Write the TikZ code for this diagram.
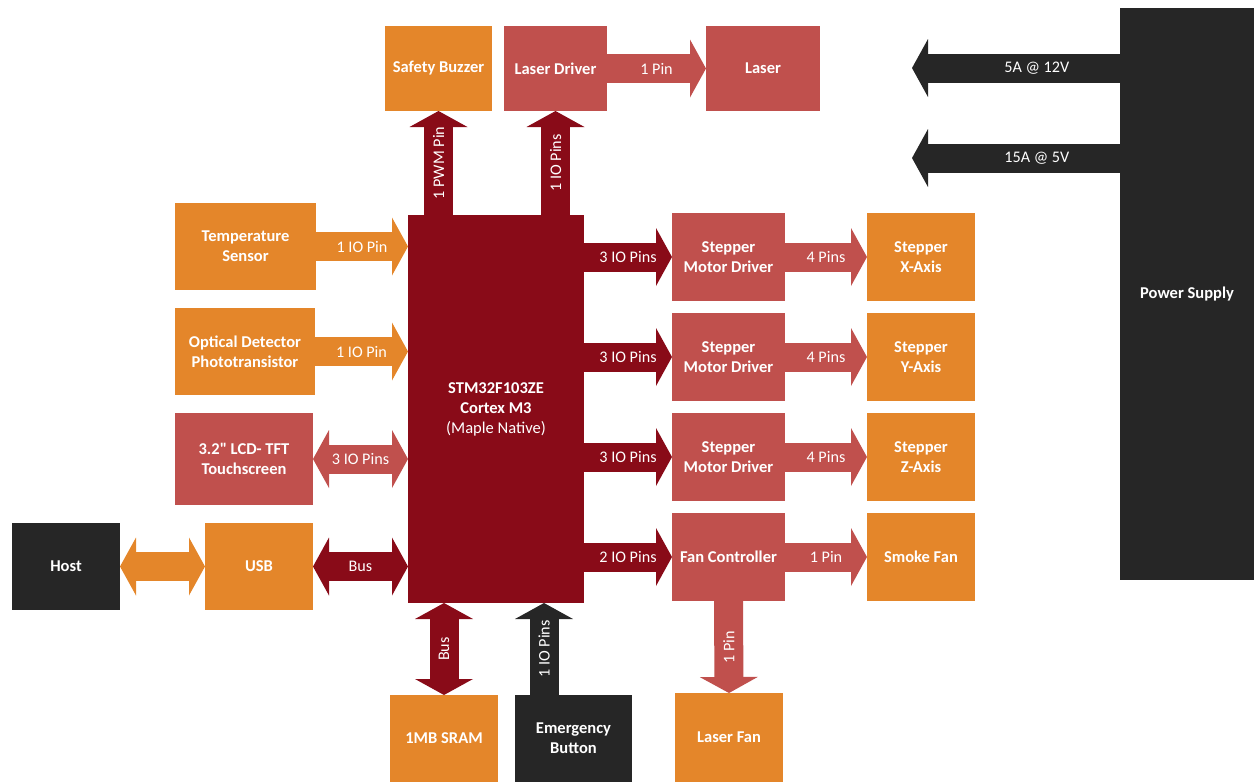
\documentclass[tikz,border=0pt]{standalone}
\usepackage{fontspec}
\setmainfont{Carlito}[Ligatures=TeXOff]
\usepackage{tikz}
\usetikzlibrary{arrows.meta,positioning}
\definecolor{boxorange}{RGB}{228,134,42}
\definecolor{boxred}{RGB}{192,80,77}
\definecolor{chipred}{RGB}{137,11,24}
\definecolor{boxblack}{RGB}{38,38,38}

\begin{document}
\begin{tikzpicture}[
		font=\fontsize{9.4}{11.4}\selectfont\bfseries,
		block/.style={
			rectangle,
			text=white,
			align=center,
			inner sep=2pt,
			outer sep=0pt,
			minimum width=2.16cm,
			minimum height=1.74cm
		},
		orangeblock/.style={block, fill=boxorange},
		redblock/.style={block, fill=boxred},
		chipblock/.style={block, fill=chipred},
		blackblock/.style={block, fill=boxblack},
		pipe/.style={
			line width=0.58cm,
			-{Triangle[length=0.32cm,width=1.16cm,line width=0pt]}
		},
		twopipe/.style={
			line width=0.58cm,
			{Triangle[length=0.32cm,width=1.16cm,line width=0pt]}-{Triangle[length=0.32cm,width=1.16cm,line width=0pt]}
		},
		pinlabel/.style={
			text=white,
			font=\fontsize{9.2}{11}\selectfont\mdseries
		}
		]
		\useasboundingbox (0,0) rectangle (25.08,-15.64);
		
		% We start by placing the blocks
		\node [chipblock, minimum width=3.52cm, minimum height=7.76cm] (mcu) at (9.92,-8.18)
		{STM32F103ZE\\Cortex M3\\{\mdseries(Maple Native)}};
		
		\node [orangeblock, minimum width=2.14cm, minimum height=1.70cm] (buzzer) at (8.77,-1.37) {Safety Buzzer};
		\node [redblock, minimum width=2.06cm, minimum height=1.70cm] (ldriver) at (11.11,-1.37) {Laser Driver};
		\node [redblock, minimum width=2.28cm, minimum height=1.70cm] (laser) at (15.26,-1.37) {Laser};
		
		\node [orangeblock, minimum width=2.82cm] (temp) at (4.91,-4.93) {Temperature\\Sensor};
		\node [orangeblock, minimum width=2.80cm] (optical) at (4.90,-7.03) {Optical Detector\\Phototransistor};
		\node [redblock, minimum width=2.76cm, minimum height=1.84cm] (lcd) at (4.88,-9.18) {3.2" LCD- TFT\\Touchscreen};
		\node [blackblock] (host) at (1.32,-11.33) {Host};
		\node [orangeblock] (usb) at (5.18,-11.33) {USB};
		
		\node [orangeblock] (sram) at (8.88,-14.77) {1MB SRAM};
		\node [blackblock, minimum width=2.34cm] (ebutton) at (11.47,-14.77) {Emergency\\Button};
		
		\node [redblock, minimum width=2.26cm, minimum height=1.76cm] (drvx) at (14.57,-5.14) {Stepper\\Motor Driver};
		\node [redblock, minimum width=2.26cm, minimum height=1.76cm] (drvy) at (14.57,-7.14) {Stepper\\Motor Driver};
		\node [redblock, minimum width=2.26cm, minimum height=1.76cm] (drvz) at (14.57,-9.14) {Stepper\\Motor Driver};
		\node [redblock, minimum width=2.26cm, minimum height=1.76cm] (fanctrl) at (14.57,-11.14) {Fan Controller};
		
		\node [orangeblock, minimum height=1.76cm] (axisx) at (18.42,-5.14) {Stepper\\X-Axis};
		\node [orangeblock, minimum height=1.76cm] (axisy) at (18.42,-7.14) {Stepper\\Y-Axis};
		\node [orangeblock, minimum height=1.76cm] (axisz) at (18.42,-9.14) {Stepper\\Z-Axis};
		\node [orangeblock, minimum height=1.76cm] (smokefan) at (18.42,-11.14) {Smoke Fan};
		\node [orangeblock, minimum height=1.78cm] (laserfan) at (14.58,-14.75) {Laser Fan};
		
		\node [blackblock, minimum width=2.68cm, minimum height=11.44cm] (power) at (23.74,-5.88) {Power Supply};
		\coordinate (out12) at (18.24,-1.36);
		\coordinate (out5) at (18.24,-3.16);
		
		% then the arrows between them
		\draw [pipe, chipred] (buzzer.south |- mcu.north) -- node [pinlabel, rotate=90] {1 PWM Pin} (buzzer.south);
		\draw [pipe, chipred] (ldriver.south |- mcu.north) -- node [pinlabel, rotate=90] {1 IO Pins} (ldriver.south);
		\draw [pipe, boxred] (ldriver.east) -- node [pinlabel] {1 Pin} (laser.west);
		
		\draw [pipe, boxorange] (temp.east) -- node [pinlabel] {1 IO Pin} (temp.east -| mcu.west);
		\draw [pipe, boxorange] (optical.east) -- node [pinlabel] {1 IO Pin} (optical.east -| mcu.west);
		\draw [twopipe, boxred] (lcd.east) -- node [pinlabel] {3 IO Pins} (lcd.east -| mcu.west);
		\draw [twopipe, boxorange] (host.east) -- (usb.west);
		\draw [twopipe, chipred] (usb.east) -- node [pinlabel] {Bus} (usb.east -| mcu.west);
		
		\draw [pipe, chipred] (drvx.west -| mcu.east) -- node [pinlabel] {3 IO Pins} (drvx.west);
		\draw [pipe, chipred] (drvy.west -| mcu.east) -- node [pinlabel] {3 IO Pins} (drvy.west);
		\draw [pipe, chipred] (drvz.west -| mcu.east) -- node [pinlabel] {3 IO Pins} (drvz.west);
		\draw [pipe, chipred] (fanctrl.west -| mcu.east) -- node [pinlabel] {2 IO Pins} (fanctrl.west);
		
		\draw [pipe, boxred] (drvx.east) -- node [pinlabel] {4 Pins} (axisx.west);
		\draw [pipe, boxred] (drvy.east) -- node [pinlabel] {4 Pins} (axisy.west);
		\draw [pipe, boxred] (drvz.east) -- node [pinlabel] {4 Pins} (axisz.west);
		\draw [pipe, boxred] (fanctrl.east) -- node [pinlabel] {1 Pin} (smokefan.west);
		\draw [pipe, boxred] (fanctrl.south) -- node [pinlabel, rotate=90] {1 Pin} (laserfan.north);
		
		\draw [twopipe, chipred] (sram.north |- mcu.south) -- node [pinlabel, rotate=90] {Bus} (sram.north);
		\draw [pipe, boxblack] ([xshift=-0.59cm]ebutton.north) -- node [pinlabel, rotate=90] {1 IO Pins} ([xshift=-0.59cm]ebutton.north |- mcu.south);
		
		\draw [pipe, boxblack] (power.west |- out12) -- node [pinlabel, pos=0.4] {5A @ 12V} (out12);
		\draw [pipe, boxblack] (power.west |- out5) -- node [pinlabel, pos=0.4] {15A @ 5V} (out5);
		
\end{tikzpicture}
\end{document}
